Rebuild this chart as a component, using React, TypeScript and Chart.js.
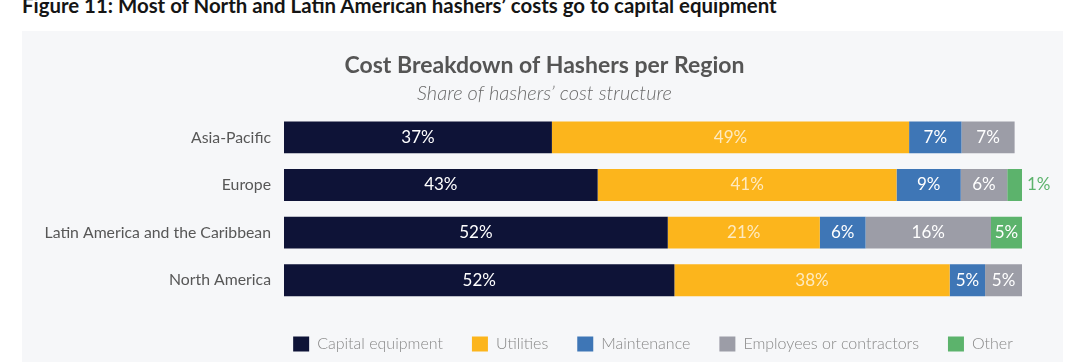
import React, { useEffect, useRef } from 'react';
import { Chart, registerables } from 'chart.js';

Chart.register(...registerables);

// ---- data ----
const regions = ['Asia-Pacific', 'Europe', 'Latin America and the Caribbean', 'North America'];

const capitalEquipment = [36.3, 42.5, 52.0, 52.9];
const utilities = [48.4, 40.5, 20.6, 37.3];
const maintenance = [7.1, 8.7, 6.2, 4.8];
const employeesOrContractors = [7.2, 6.3, 17.0, 5.0];
const other = [null, 2.0, 4.2, null];

const capitalEquipmentLabels = ['37%', '43%', '52%', '52%'];
const utilitiesLabels = ['49%', '41%', '21%', '38%'];
const maintenanceLabels = ['7%', '9%', '6%', '5%'];
const employeesLabels = ['7%', '6%', '16%', '5%'];
const otherLabels = ['', '1%', '5%', ''];

const seriesNames = ['Capital equipment', 'Utilities', 'Maintenance', 'Employees or contractors', 'Other'];

const headingText = 'Figure 11: Most of North and Latin American hashers\u2019 costs go to capital equipment';
const titleText = 'Cost Breakdown of Hashers per Region';
const subtitleText = 'Share of hashers\u2019 cost structure';

// ---- styles ----
const COLORS = ['#0e1337', '#fcb51c', '#3e76b6', '#9c9da7', '#5cb36c'];
const INSIDE_TEXT = ['#ffffff', 'rgba(255,255,255,0.72)', '#ffffff', '#ffffff', '#ffffff'];

const segmentLabelsPlugin = {
  id: 'segmentLabels',
  afterDatasetsDraw(chart: any) {
    const { ctx } = chart;
    ctx.save();
    ctx.font = '400 17px Lato';
    ctx.textBaseline = 'middle';
    chart.data.datasets.forEach((ds: any, di: number) => {
      const meta = chart.getDatasetMeta(di);
      if (meta.hidden) return;
      meta.data.forEach((el: any, i: number) => {
        const text = ds.segmentLabels ? ds.segmentLabels[i] : '';
        if (!text) return;
        const p = el.getProps(['x', 'y', 'base'], true);
        const left = Math.min(p.x, p.base);
        const right = Math.max(p.x, p.base);
        const tw = ctx.measureText(text).width;
        if (right - left < tw + 4) {
          ctx.textAlign = 'left';
          ctx.fillStyle = ds.outsideLabelColor;
          ctx.fillText(text, right + 5, p.y);
        } else {
          ctx.textAlign = 'center';
          ctx.fillStyle = ds.insideLabelColor;
          ctx.fillText(text, (left + right) / 2, p.y);
        }
      });
    });
    ctx.restore();
  },
};

// legend centred on the plot area, titles centred on the panel
const PANEL_LEFT = 22;
const PANEL_RIGHT = 1063;
const centerBlocksPlugin = {
  id: 'centerBlocks',
  beforeDraw(chart: any) {
    const area = chart.chartArea;
    if (!area) return;
    if (chart.legend) {
      const c = (area.left + area.right) / 2;
      chart.legend.left = c - 400;
      chart.legend.right = c + 400;
    }
    (chart.boxes || []).forEach((box: any) => {
      if (box && typeof box._drawArgs === 'function') {
        box.left = PANEL_LEFT + 4;
        box.right = PANEL_RIGHT;
      }
    });
  },
};

export default function App() {
  const canvasRef = useRef<HTMLCanvasElement | null>(null);

  useEffect(() => {
    if (!canvasRef.current) return;
    const seriesValues = [capitalEquipment, utilities, maintenance, employeesOrContractors, other];
    const seriesLabels = [capitalEquipmentLabels, utilitiesLabels, maintenanceLabels, employeesLabels, otherLabels];
    const chart = new Chart(canvasRef.current, {
      type: 'bar',
      data: {
        labels: regions,
        datasets: seriesNames.map((name, k) => ({
          label: name,
          data: seriesValues[k],
          backgroundColor: COLORS[k],
          borderWidth: 0,
          categoryPercentage: 1,
          barPercentage: 0.67,
          segmentLabels: seriesLabels[k],
          insideLabelColor: INSIDE_TEXT[k],
          outsideLabelColor: COLORS[k],
        })) as any,
      },
      options: {
        indexAxis: 'y',
        animation: false,
        responsive: false,
        maintainAspectRatio: false,
        layout: { padding: { left: 20, right: 58, top: 0, bottom: 0 } },
        scales: {
          x: {
            stacked: true,
            display: true,
            min: 0,
            max: 100,
            grid: { display: false, drawTicks: false },
            border: { display: false },
            ticks: { display: false },
            afterFit(scale: any) {
              scale.height = 3;
            },
          },
          y: {
            stacked: true,
            grid: { display: false, drawTicks: false },
            border: { display: false },
            ticks: {
              padding: 13,
              color: '#575757',
              font: { family: 'Lato', size: 15.8, weight: 'normal' },
            },
            afterFit(scale: any) {
              scale.width = 264;
            },
          },
        },
        plugins: {
          tooltip: { enabled: false },
          title: {
            display: true,
            text: titleText,
            color: '#555555',
            font: { family: 'Lato', size: 23, weight: 'bold' },
            padding: { top: 52, bottom: 0 },
          },
          subtitle: {
            display: true,
            text: subtitleText,
            color: '#6a6a6a',
            font: { family: 'Lato', size: 20, style: 'italic', weight: 300 as any },
            padding: { top: 2, bottom: 8 },
          },
          legend: {
            position: 'bottom',
            labels: {
              boxWidth: 16,
              boxHeight: 15,
              padding: 29,
              color: '#888888',
              font: { family: 'Lato', size: 16, weight: 300 as any },
            },
          },
        },
      },
      plugins: [segmentLabelsPlugin, centerBlocksPlugin],
    });
    return () => chart.destroy();
  }, []);

  return (
    <div
      style={{
        position: 'fixed',
        left: 0,
        top: 0,
        width: 1080,
        height: 362,
        overflow: 'hidden',
        background: '#ffffff',
      }}
    >
      <div
        style={{
          position: 'absolute',
          left: 22,
          top: -7,
          whiteSpace: 'nowrap',
          fontFamily: 'Lato',
          fontWeight: 700,
          fontSize: 20.4,
          lineHeight: '24px',
          color: '#151515',
        }}
      >
        {headingText}
      </div>
      <div
        style={{
          position: 'absolute',
          left: PANEL_LEFT,
          top: 31,
          width: PANEL_RIGHT - PANEL_LEFT,
          height: 340,
          background: '#f6f7f9',
        }}
      />
      <canvas
        ref={canvasRef}
        width={1080}
        height={362}
        style={{ position: 'absolute', left: 0, top: 0, width: 1080, height: 362 }}
      />
    </div>
  );
}
